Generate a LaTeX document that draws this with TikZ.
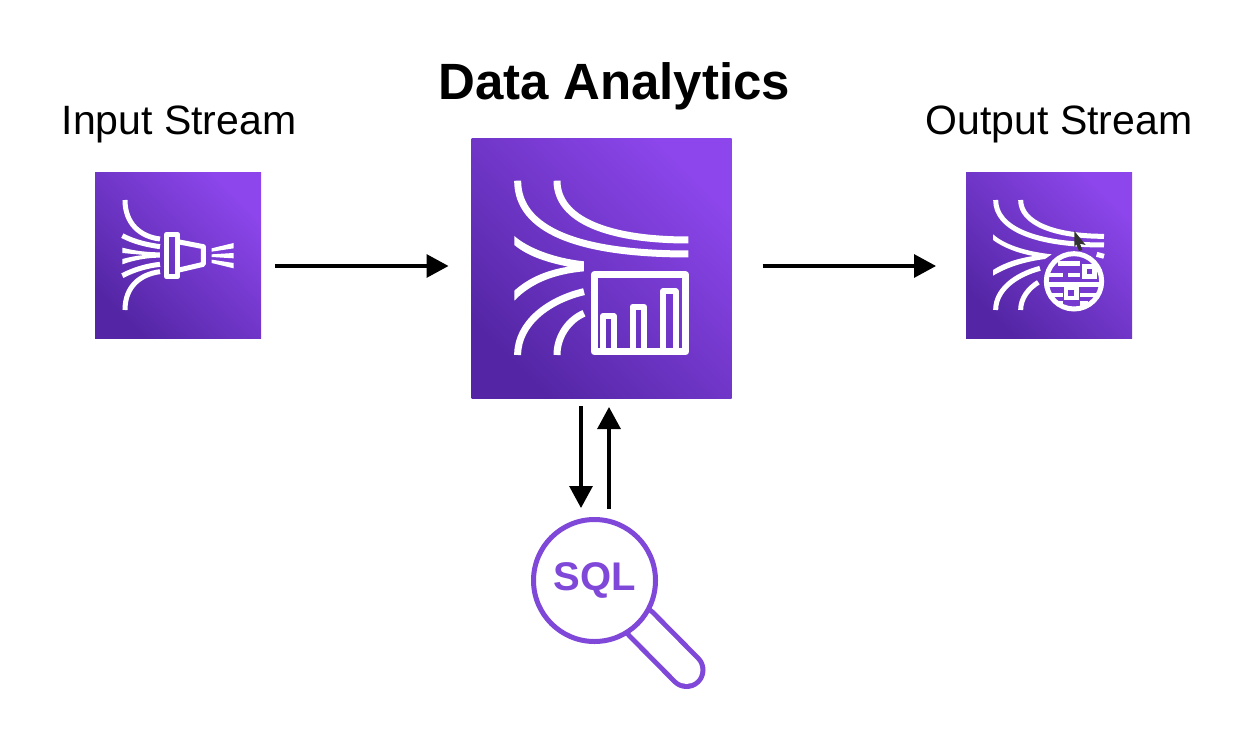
\documentclass[tikz,border=0pt]{standalone}
\usepackage{fontspec}
\setmainfont{Liberation Sans}
\usetikzlibrary{arrows.meta}
\definecolor{awslight}{RGB}{140,70,235}
\definecolor{awsdark}{RGB}{84,38,165}
\definecolor{awsmid}{RGB}{118,58,208}
\definecolor{sqlpurple}{RGB}{127,72,216}
\tikzset{
    awsbox/.style={draw=none, inner sep=0pt, outer sep=0pt, bottom color=awsdark, top color=awslight, shading angle=-45, minimum size=#1},
    caption/.style={anchor=base, inner sep=0pt, font=\fontsize{41}{41}\selectfont},
    flow/.style={line width=3.2pt, black, -{Triangle[length=22pt, width=23pt]}},
    stream/.style={line width=#1, white, line cap=butt},
}
\begin{document}
\begin{tikzpicture}[x=1pt, y=-1pt]
    \useasboundingbox (0,0) rectangle (1238,734);

    % boxes
    \node[awsbox=166pt] (input) at (178,255) {};
    \node[awsbox=260pt] (main) at (601.5,268) {};
    \node[awsbox=166pt] (output) at (1049,255) {};

    % titles
    \node[caption] (inputtitle) at (179,134) {Input Stream};
    \node[caption, font=\fontsize{51}{51}\selectfont\bfseries] (maintitle) at (614.5,99) {Data Analytics};
    \node[caption] (outputtitle) at (1059,134) {Output Stream};

    % input icon
    \begin{scope}[shift={(85pt,-165pt)}, x=0.3333pt, y=-0.3333pt]
        \draw[stream=5pt] (120,105) .. controls (120,175) and (165,215) .. (225,222);
        \draw[stream=5pt] (112,212) .. controls (150,232) and (190,240) .. (225,245);
        \fill[white] (112,248) .. controls (150,258) and (190,262) .. (225,262) -- (225,278)
            .. controls (190,278) and (150,284) .. (112,298) -- (112,282)
            .. controls (135,276) and (155,272) .. (178,270) .. controls (155,268) and (135,266) .. (112,264) -- cycle;
        \draw[stream=5pt] (112,332) .. controls (150,312) and (190,302) .. (225,298);
        \draw[stream=5pt] (120,435) .. controls (120,365) and (165,328) .. (225,320);
        \draw[stream=5pt, line join=round] (245,208) rectangle (278,335);
        \draw[stream=5pt, line join=round] (278,230) -- (355,245) -- (355,298) -- (278,316);
        \fill[white] (380,250) -- (446,234) -- (446,250) -- (380,260) -- cycle;
        \fill[white] (380,268) -- (446,264) -- (446,280) -- (380,276) -- cycle;
        \fill[white] (380,284) -- (446,294) -- (446,310) -- (380,294) -- cycle;
    \end{scope}

    % main icon
    \begin{scope}[shift={(465pt,-130pt)}, x=0.3333pt, y=-0.3333pt]
        \draw[stream=7pt] (158,152) .. controls (158,300) and (340,372) .. (670,372);
        \draw[stream=7pt] (276,152) .. controls (276,270) and (430,330) .. (670,330);
        \fill[white] (148,318) .. controls (190,355) and (270,385) .. (357,394) -- (357,424)
            .. controls (270,432) and (200,458) .. (148,512) -- (148,482)
            .. controls (195,440) and (250,420) .. (310,410) .. controls (250,398) and (190,380) .. (148,345) -- cycle;
        \draw[stream=7pt] (158,675) .. controls (158,580) and (250,510) .. (357,485);
        \draw[stream=7pt] (276,675) .. controls (276,620) and (310,570) .. (357,550);
        \draw[stream=7pt, line join=round] (388,434) rectangle (662,666);
        \draw[stream=6pt, line join=round] (414,660) -- (414,558) -- (446,558) -- (446,660);
        \draw[stream=6pt, line join=round] (503,660) -- (503,530) -- (537,530) -- (537,660);
        \draw[stream=6pt, line join=round] (594,660) -- (594,484) -- (632,484) -- (632,660);
    \end{scope}

    % output icon
    \begin{scope}[shift={(955pt,-165pt)}, x=0.3333pt, y=-0.3333pt]
        \draw[stream=5pt] (122,105) .. controls (122,190) and (240,240) .. (447,240);
        \draw[stream=5pt] (197,105) .. controls (197,175) and (300,214) .. (447,214);
        \fill[white] (114,208) .. controls (145,235) and (200,258) .. (290,268) -- (270,282)
            .. controls (210,290) and (160,305) .. (114,332) -- (114,315)
            .. controls (150,292) and (190,280) .. (235,273) .. controls (190,265) and (145,248) .. (114,225) -- cycle;
        \draw[stream=5pt] (122,435) .. controls (122,375) and (180,330) .. (255,310);
        \draw[stream=5pt] (197,435) .. controls (197,400) and (220,370) .. (250,352);
        \draw[stream=5pt] (425,268) -- (447,274);
        \draw[stream=5pt, fill=awsmid] (357,349) circle (83);
        \draw[stream=4.5pt] (310,295) -- (375,295);
        \draw[stream=4.5pt] (280,330) -- (325,330);
        \draw[stream=4.5pt] (340,330) -- (375,330);
        \draw[stream=4.5pt] (275,358) -- (438,358);
        \draw[stream=4.5pt] (285,390) -- (325,390);
        \draw[stream=4.5pt] (375,390) -- (425,390);
        \draw[stream=4.5pt] (310,415) -- (325,415);
        \draw[stream=4.5pt] (375,415) -- (400,415);
        \draw[stream=4.5pt, fill=awsmid] (388,305) rectangle (418,335);
        \draw[stream=4.5pt, fill=awsmid] (333,367) rectangle (365,399);
        \fill[black!80] (358,198) -- (392,240) -- (375,236) -- (382,255) -- (372,258) -- (364,238) -- (358,246) -- cycle;
    \end{scope}

    % sql lens
    \draw[line width=38pt, sqlpurple, line cap=round] (641,624) -- (686.5,670);
    \draw[line width=28pt, white, line cap=round] (641,624) -- (686.5,670);
    \node[circle, draw=sqlpurple, line width=5pt, fill=white, minimum size=122pt, inner sep=0pt, text=sqlpurple, font=\fontsize{40}{40}\selectfont\bfseries] (sql) at (594.5,580.5) {SQL};

    % arrows
    \draw[flow] ([xshift=14pt, yshift=-11pt]input.east) -- ([xshift=-23pt, yshift=2pt]main.west);
    \draw[flow] ([xshift=31pt, yshift=2pt]main.east) -- ([xshift=-30pt, yshift=-11pt]output.west);
    \draw[flow] ([xshift=-20.5pt, yshift=-8pt]main.south) -- ([xshift=-13.5pt, yshift=9pt]sql.north);
    \draw[flow] ([xshift=14.5pt, yshift=8pt]sql.north) -- ([xshift=7.5pt, yshift=-9pt]main.south);
\end{tikzpicture}
\end{document}
